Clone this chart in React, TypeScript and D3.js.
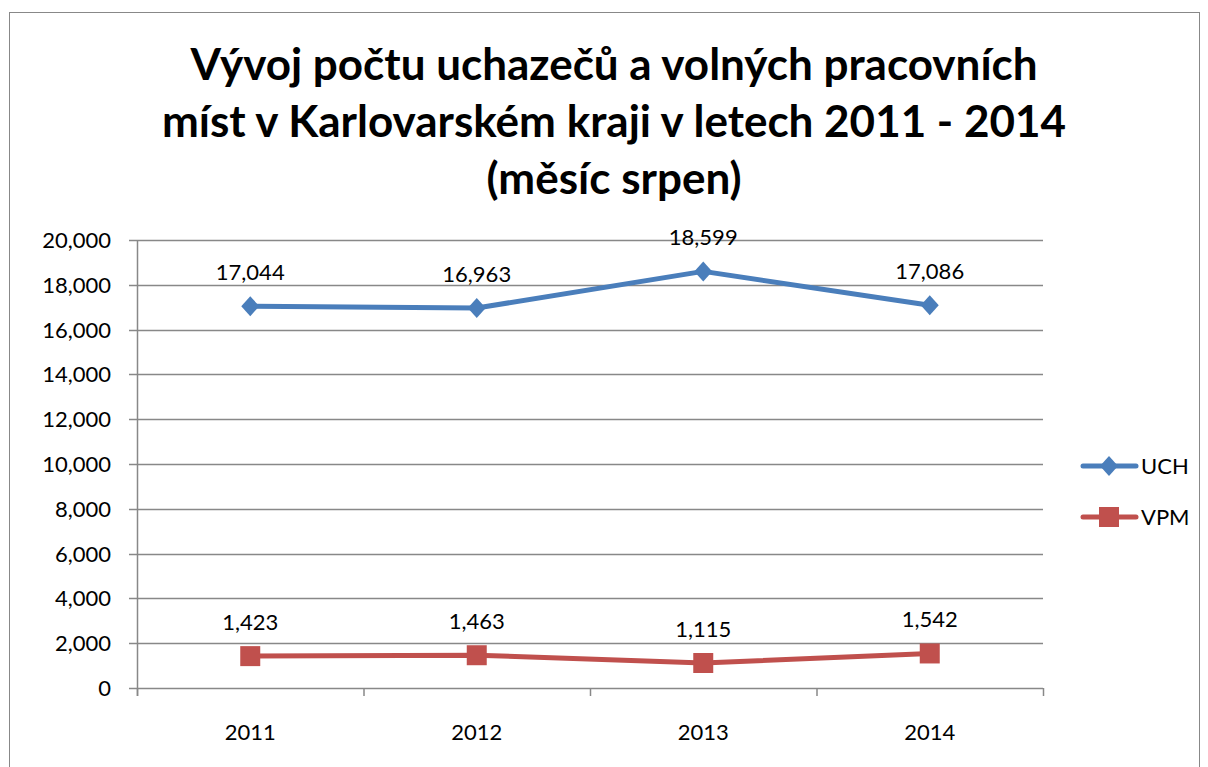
import React, { useEffect, useRef } from 'react';
import * as d3 from 'd3';

const years = ['2011', '2012', '2013', '2014'];
const uch = [17044, 16963, 18599, 17086];
const vpm = [1423, 1463, 1115, 1542];
const yTicks = [0, 2000, 4000, 6000, 8000, 10000, 12000, 14000, 16000, 18000, 20000];
const titleLines = [
  'Vývoj počtu uchazečů a volných pracovních',
  'míst v Karlovarském kraji v letech 2011 - 2014',
  '(měsíc srpen)',
];
const seriesNames = ['UCH', 'VPM'];

const W = 1208;
const H = 767;
const FONT = 'Lato, "Open Sans", sans-serif';

// marker outlines (diamond for UCH, square for VPM)
const diamond = 'M0,-10L9,0L0,10L-9,0Z';
const square = 'M-10,-10H10V10H-10Z';

const App = () => {
  const ref = useRef<SVGSVGElement>(null);

  useEffect(() => {
    const svg = d3.select(ref.current);
    svg.selectAll('*').remove();

    // outer chart border
    svg.append('rect')
      .attr('x', 9.5).attr('y', 12.5)
      .attr('width', 1190).attr('height', 770)
      .attr('fill', 'white').attr('stroke', '#888').attr('stroke-width', 1);

    // title
    svg.append('g')
      .selectAll('text')
      .data(titleLines)
      .join('text')
      .attr('x', 614)
      .attr('y', (d, i) => 80 + i * 57)
      .attr('text-anchor', 'middle')
      .attr('font-family', FONT)
      .attr('font-weight', 'bold')
      .attr('font-size', 44)
      .attr('fill', '#000')
      .text(d => d);

    const left = 137, right = 1043, top = 240, bottom = 688;
    const x = d3.scaleBand().domain(years).range([left, right]);
    const y = d3.scaleLinear().domain([0, 20000]).range([bottom, top]);
    const cx = (d: string) => (x(d) as number) + x.bandwidth() / 2;
    const fmt = d3.format(',');

    // gridlines
    svg.append('g')
      .selectAll('line')
      .data(yTicks)
      .join('line')
      .attr('x1', left - 8).attr('x2', right)
      .attr('y1', d => Math.round(y(d)) + 0.5).attr('y2', d => Math.round(y(d)) + 0.5)
      .attr('stroke', '#888').attr('stroke-width', 1.5);

    // y axis line
    svg.append('line')
      .attr('x1', left + 0.5).attr('x2', left + 0.5)
      .attr('y1', top).attr('y2', bottom + 8)
      .attr('stroke', '#888').attr('stroke-width', 1.5);

    // x ticks at band boundaries
    const bounds = years.map(d => x(d) as number).concat([right]);
    svg.append('g')
      .selectAll('line')
      .data(bounds)
      .join('line')
      .attr('x1', d => d + 0.5).attr('x2', d => d + 0.5)
      .attr('y1', bottom).attr('y2', bottom + 8)
      .attr('stroke', '#888').attr('stroke-width', 1.5);

    // y tick labels
    svg.append('g')
      .selectAll('text')
      .data(yTicks)
      .join('text')
      .attr('x', 111)
      .attr('y', d => y(d) + 8)
      .attr('text-anchor', 'end')
      .attr('font-family', FONT)
      .attr('font-size', 22)
      .attr('fill', '#000')
      .text(d => fmt(d));

    // x labels
    svg.append('g')
      .selectAll('text')
      .data(years)
      .join('text')
      .attr('x', d => cx(d))
      .attr('y', 740)
      .attr('text-anchor', 'middle')
      .attr('font-family', FONT)
      .attr('font-size', 22)
      .attr('fill', '#000')
      .text(d => d);

    const line = d3.line<[string, number]>()
      .x(d => cx(d[0]))
      .y(d => y(d[1]));

    const series = [
      { name: seriesNames[0], values: uch, color: '#4a7ebb', shape: diamond },
      { name: seriesNames[1], values: vpm, color: '#c0504d', shape: square },
    ];

    series.forEach((s, si) => {
      const pts = years.map((yr, i) => [yr, s.values[i]] as [string, number]);
      svg.append('path')
        .datum(pts)
        .attr('d', line)
        .attr('fill', 'none')
        .attr('stroke', s.color)
        .attr('stroke-width', 5)
        .attr('stroke-linejoin', 'round')
        .attr('stroke-linecap', 'round');

      svg.append('g')
        .selectAll('path')
        .data(pts)
        .join('path')
        .attr('transform', d => `translate(${cx(d[0])},${y(d[1])})`)
        .attr('d', s.shape)
        .attr('fill', s.color);

      svg.append('g')
        .selectAll('text')
        .data(pts)
        .join('text')
        .attr('x', d => cx(d[0]))
        .attr('y', d => y(d[1]) - 26)
        .attr('text-anchor', 'middle')
        .attr('font-family', FONT)
        .attr('font-size', 22)
        .attr('fill', '#000')
        .text(d => fmt(d[1]));

      // legend
      const ly = 466 + si * 51;
      svg.append('line')
        .attr('x1', 1083).attr('x2', 1136)
        .attr('y1', ly).attr('y2', ly)
        .attr('stroke', s.color).attr('stroke-width', 5)
        .attr('stroke-linecap', 'round');
      svg.append('path')
        .attr('transform', `translate(1109,${ly})`)
        .attr('d', s.shape)
        .attr('fill', s.color);
      svg.append('text')
        .attr('x', 1141).attr('y', ly + 8)
        .attr('font-family', FONT)
        .attr('font-size', 22)
        .attr('fill', '#000')
        .text(s.name);
    });
  }, []);

  return (
    <svg ref={ref} width={W} height={H} style={{ display: 'block', position: 'absolute', left: 0, top: 0 }} />
  );
};

export default App;
